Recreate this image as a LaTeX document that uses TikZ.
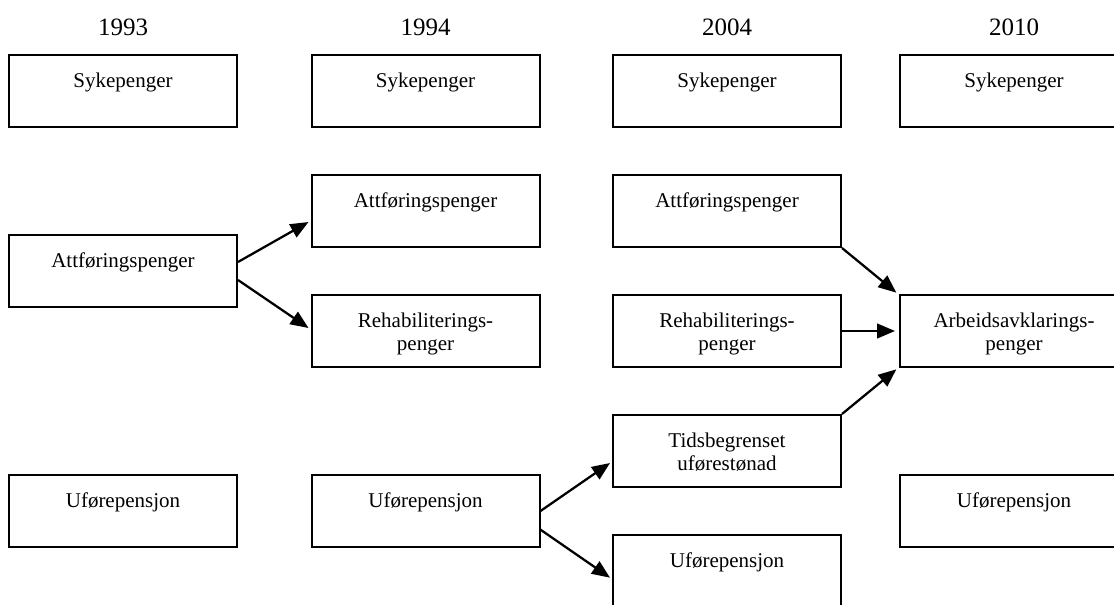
\documentclass[tikz,border=0pt]{standalone}
\usepackage{fontspec}
\setmainfont{Liberation Serif}
\usetikzlibrary{arrows.meta}
\begin{document}
\begin{tikzpicture}[x=0.75pt,y=-0.75pt,
  boxtext/.style={anchor=north, yshift=-14pt, align=center, inner sep=0pt,
                  font=\fontsize{15.75}{17.6}\selectfont},
  box/.style={draw, line width=1.5pt, minimum width=171pt, minimum height=54pt,
              inner sep=0pt, label={[boxtext]north:#1}},
  year/.style={anchor=base, inner sep=0pt, font=\fontsize{18.75}{20}\selectfont},
  flow/.style={line width=1.7pt, -{Triangle[length=13.5pt,width=11pt]}}]
\useasboundingbox (0,0) rectangle (1114,604);

% year headings
\node[year] (y1) at (123,35) {1993};
\node[year] (y2) at (425.5,35) {1994};
\node[year] (y3) at (727,35) {2004};
\node[year] (y4) at (1014,35) {2010};

% 1993
\node[box=Sykepenger] (c1syk) at (123,91) {};
\node[box=Attføringspenger] (c1att) at (123,271) {};
\node[box=Uførepensjon] (c1ufo) at (123,511) {};

% 1994
\node[box=Sykepenger] (c2syk) at (425.5,91) {};
\node[box=Attføringspenger] (c2att) at (425.5,211) {};
\node[box={Rehabiliterings-\\penger}] (c2reh) at (425.5,331) {};
\node[box=Uførepensjon] (c2ufo) at (425.5,511) {};

% 2004
\node[box=Sykepenger] (c3syk) at (727,91) {};
\node[box=Attføringspenger] (c3att) at (727,211) {};
\node[box={Rehabiliterings-\\penger}] (c3reh) at (727,331) {};
\node[box={Tidsbegrenset\\uførestønad}] (c3tid) at (727,451) {};
\node[box=Uførepensjon] (c3ufo) at (727,571) {};

% 2010
\node[box=Sykepenger] (c4syk) at (1014,91) {};
\node[box={Arbeidsavklarings-\\penger}] (c4arb) at (1014,331) {};
\node[box=Uførepensjon] (c4ufo) at (1014,511) {};

% transitions 1993 -> 1994
\draw[flow] ([yshift=6.75pt]c1att.east) -- ([xshift=-1.5pt,yshift=-8.25pt]c2att.west);
\draw[flow] ([yshift=-6.75pt]c1att.east) -- ([xshift=-1.5pt,yshift=2.25pt]c2reh.west);

% transitions 1994 -> 2004
\draw[flow] ([yshift=0pt]c2ufo.east) -- ([xshift=-1.5pt,yshift=-9pt]c3tid.west);
\draw[flow] ([yshift=-14pt]c2ufo.east) -- ([xshift=-1.5pt,yshift=-5pt]c3ufo.west);

% transitions 2004 -> 2010
\draw[flow] (c3att.south east) -- ([xshift=-2pt,yshift=1pt]c4arb.north west);
\draw[flow] (c3reh.east) -- ([xshift=-3pt]c4arb.west);
\draw[flow] (c3tid.north east) -- ([xshift=-2pt,yshift=-1pt]c4arb.south west);
\end{tikzpicture}
\end{document}
